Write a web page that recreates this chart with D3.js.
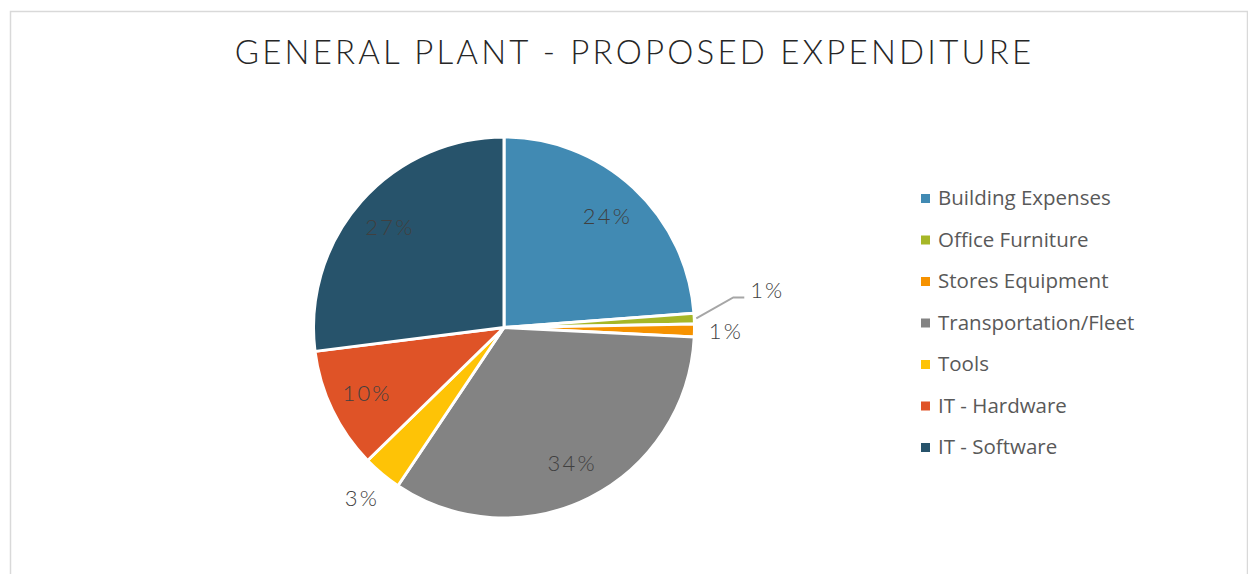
<!DOCTYPE html>
<html>
<head>
<meta charset="utf-8">
<script src="https://cdn.jsdelivr.net/npm/d3@7"></script>
<style>
  html, body { margin: 0; padding: 0; background: #fff; }
  svg { display: block; }
</style>
</head>
<body>
<svg id="chart" width="1248" height="574"></svg>
<script>
// Proposed expenditure shares (percent) for general plant
const categories = ["Building Expenses", "Office Furniture", "Stores Equipment",
  "Transportation/Fleet", "Tools", "IT - Hardware", "IT - Software"];
const shares = [23.8, 0.9, 1.1, 33.6, 3.3, 10.3, 27.0];
const labels = ["24%", "1%", "1%", "34%", "3%", "10%", "27%"];
const colors = ["#418ab3", "#a6b727", "#f69200", "#838383", "#fec306", "#df5327", "#27536b"];
const title = "GENERAL PLANT - PROPOSED EXPENDITURE";

const svg = d3.select("#chart");

// chart area frame
svg.append("rect")
  .attr("x", 10.5).attr("y", 11.5)
  .attr("width", 1237).attr("height", 600)
  .attr("fill", "#fff")
  .attr("stroke", "#d9d9d9").attr("stroke-width", 1.5);

svg.append("text")
  .attr("x", 634.5).attr("y", 64)
  .attr("text-anchor", "middle")
  .attr("font-family", "Lato, 'Open Sans', sans-serif")
  .attr("font-weight", 300)
  .attr("font-size", 33)
  .attr("letter-spacing", 3.2)
  .attr("fill", "#262626")
  .text(title);

const cx = 504, cy = 327.5, R = 190.5;
const data = categories.map((c, i) => ({ name: c, value: shares[i], label: labels[i], color: colors[i] }));

const pie = d3.pie().value(d => d.value).sort(null);
const arcs = pie(data);
const arc = d3.arc().innerRadius(0).outerRadius(R);
const labelArc = d3.arc().innerRadius(152).outerRadius(152);
const outerArc = d3.arc().innerRadius(222).outerRadius(222);
const edgeArc = d3.arc().innerRadius(R + 2).outerRadius(R + 2);

const g = svg.append("g").attr("transform", `translate(${cx},${cy})`);

g.selectAll("path.slice")
  .data(arcs)
  .enter().append("path")
  .attr("class", "slice")
  .attr("d", arc)
  .attr("fill", d => d.data.color)
  .attr("stroke", "#fff")
  .attr("stroke-width", 3)
  .attr("stroke-linejoin", "round");

// small slices get their labels outside the pie
const isSmall = d => d.data.value < 5;
const leaderIdx = 1; // Office Furniture label is pushed out with a leader line

const labelPos = (d, i) => {
  if (i === leaderIdx) {
    const p = edgeArc.centroid(d);
    return [p[0] + 71, p[1] - 28];
  }
  return isSmall(d) ? outerArc.centroid(d) : labelArc.centroid(d);
};

// leader line for the displaced label
arcs.forEach((d, i) => {
  if (i !== leaderIdx) return;
  const p0 = edgeArc.centroid(d);
  const lp = labelPos(d, i);
  const elbow = [lp[0] - 34, lp[1] + 7];
  g.append("polyline")
    .attr("points", [p0, elbow, [lp[0] - 23, elbow[1]]].map(p => p.join(",")).join(" "))
    .attr("fill", "none")
    .attr("stroke", "#a6a6a6")
    .attr("stroke-width", 2);
});

g.selectAll("text.pct")
  .data(arcs)
  .enter().append("text")
  .attr("class", "pct")
  .attr("transform", (d, i) => `translate(${labelPos(d, i)})`)
  .attr("text-anchor", "middle")
  .attr("dy", "0.36em")
  .attr("font-family", "Lato, 'Open Sans', sans-serif")
  .attr("font-weight", 300)
  .attr("font-size", 22)
  .attr("letter-spacing", 2.2)
  .attr("fill", "#404040")
  .text(d => d.data.label);

// legend
const legend = svg.append("g").attr("transform", "translate(921,198)");
const rowY = d3.scalePoint().domain(categories).range([0, 249]);
const item = legend.selectAll("g.item")
  .data(data)
  .enter().append("g")
  .attr("class", "item")
  .attr("transform", d => `translate(0,${rowY(d.name)})`);
item.append("rect")
  .attr("x", 0).attr("y", -4)
  .attr("width", 9).attr("height", 9)
  .attr("fill", d => d.color);
item.append("text")
  .attr("x", 17).attr("dy", "0.36em")
  .attr("font-family", "'Open Sans', sans-serif")
  .attr("font-size", 20.5)
  .attr("fill", "#595959")
  .text(d => d.name);
</script>
</body>
</html>
